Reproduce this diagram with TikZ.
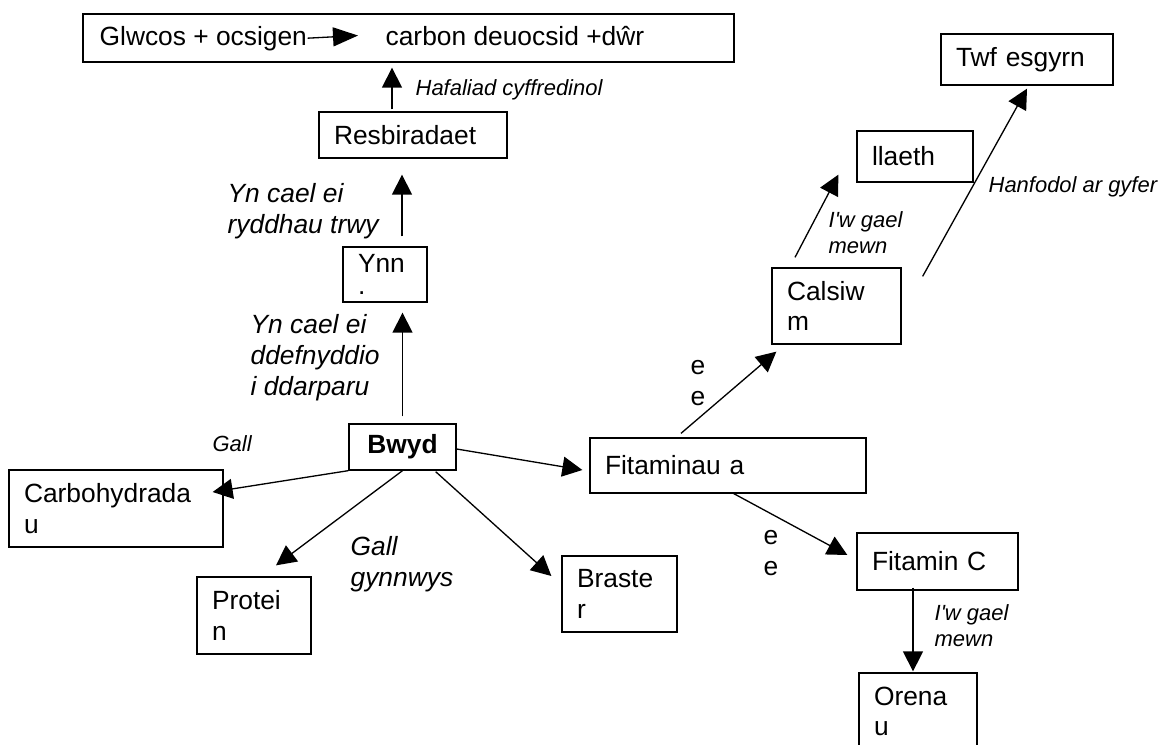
\documentclass[tikz,border=0pt]{standalone}
\usepackage{fontspec}
\setmainfont{Liberation Sans}
\usetikzlibrary{arrows.meta}
\newcommand{\boxfont}{\fontsize{15}{17.5}\selectfont}
\newcommand{\notefont}{\fontsize{12.5}{15}\selectfont}

\begin{document}
\begin{tikzpicture}[x=0.02cm,y=-0.02cm,line width=0.75pt,
box/.style={draw,rectangle,inner xsep=0.3cm,inner ysep=0pt,align=left,font=\boxfont},
arr/.style={-{Triangle[length=0.4cm,width=0.4cm]}},
note/.style={inner sep=0pt,align=left,font=\notefont\itshape},
bignote/.style={inner sep=0pt,align=left,font=\boxfont\itshape}]

\useasboundingbox (0,0) rectangle (1166,744);

% equation box
\node[box,minimum width=13.02cm,minimum height=0.96cm] (eq) at (408.5,38) {};
\node[inner sep=0pt,font=\boxfont,anchor=base west] (react) at (99,45) {Glwcos + ocsigen};
\node[inner sep=0pt,font=\boxfont,anchor=base west] (prod) at (385,45) {carbon deuocsid +dŵr};
\draw[-{Triangle[length=0.5cm,width=0.38cm]}] (react.east) -- ([xshift=-0.54cm]prod.west);

% boxes
\node[box,text width=1.08cm,minimum height=1.10cm] (ynn) at (385,274.5) {Ynn\\[-5pt].};
\node[box,text width=3.16cm,minimum height=0.92cm] (resb) at (413,135) {Resbiradaet};
\node[box,align=center,minimum width=2.14cm,minimum height=0.92cm,font=\boxfont\bfseries] (bwyd) at (402.5,447) {Bwyd};
\node[box,text width=3.68cm,minimum height=1.54cm] (carb) at (116,508.5) {Carbohydrada\\u};
\node[box,text width=1.68cm,minimum height=1.54cm] (protein) at (254,615.5) {Protei\\n};
\node[box,text width=1.70cm,minimum height=1.52cm] (braster) at (619.5,594) {Braste\\r};
\node[box,text width=4.92cm,minimum height=1.10cm] (fit) at (728,465.5) {Fitaminau a};
\node[box,text width=2.62cm,minimum height=1.14cm] (fitc) at (937.5,561.5) {Fitamin C};
\node[box,text width=1.76cm,minimum height=1.54cm] (oren) at (918,711.5) {Orena\\u};
\node[box,text width=1.98cm,minimum height=1.52cm] (calsiwm) at (836.5,306) {Calsiw\\m};
\node[box,text width=1.72cm,minimum height=1.02cm] (llaeth) at (915,156.5) {llaeth};
\node[box,text width=2.84cm,minimum height=1.02cm] (twf) at (1027,59.5) {Twf esgyrn};

% labels
\node[note,anchor=base west] (hafaliad) at (415,95) {Hafaliad cyffredinol};
\node[bignote,anchor=north west] (rhyddhau) at (227,183) {Yn cael ei\\ryddhau trwy};
\node[bignote,anchor=north west] (darparu) at (250,314) {Yn cael ei\\ddefnyddio\\i ddarparu};
\node[note,anchor=base west] (gall) at (212,451) {Gall};
\node[bignote,anchor=north west] (gynnwys) at (350,536) {Gall\\gynnwys};
\node[inner sep=0pt,align=left,font=\boxfont,anchor=north west] (ecals) at (690,360) {e\\e};
\node[inner sep=0pt,align=left,font=\boxfont,anchor=north west] (efitc) at (763,530) {e\\e};
\node[note,anchor=north west] (mewnllaeth) at (828,211) {I\textquotesingle w gael\\mewn};
\node[note,anchor=base west] (hanfodol) at (988,192) {Hanfodol ar gyfer};
\node[note,anchor=north west] (mewnoren) at (934,604) {I\textquotesingle w gael\\mewn};

% arrows
\draw[arr] ([shift={(-21,-2)}]resb.north) -- ([shift={(-16.5,5)}]eq.south);
\draw[arr] ([shift={(17,-10)}]ynn.north) -- ([shift={(-11,16)}]resb.south);
\draw[arr] ([shift={(0,-7)}]bwyd.north) -- ([shift={(17.5,10)}]ynn.south);
\draw[arr] (bwyd.south west) -- ([shift={(-11,-16.5)}]carb.east);
\draw[arr] (bwyd.south) -- ([shift={(22,-11)}]protein.north);
\draw[arr] ([shift={(-21,1)}]bwyd.south east) -- ([shift={(-10,-18)}]braster.west);
\draw[arr] ([shift={(0,2)}]bwyd.east) -- ([shift={(-7,4.5)}]fit.west);
\draw[arr] ([shift={(-47,-4)}]fit.north) -- ([shift={(5,7)}]calsiwm.south west);
\draw[arr] ([shift={(4,-1)}]fit.south) -- ([shift={(-9,-6.5)}]fitc.west);
\draw[arr] ([shift={(-24.5,-3)}]fitc.south) -- ([shift={(-5,-1)}]oren.north);
\draw[arr] ([shift={(-41.5,-10)}]calsiwm.north) -- ([shift={(-18,-8)}]llaeth.south west);
\draw[arr] ([shift={(21,9)}]calsiwm.north east) -- ([shift={(0,3)}]twf.south);
\end{tikzpicture}
\end{document}
